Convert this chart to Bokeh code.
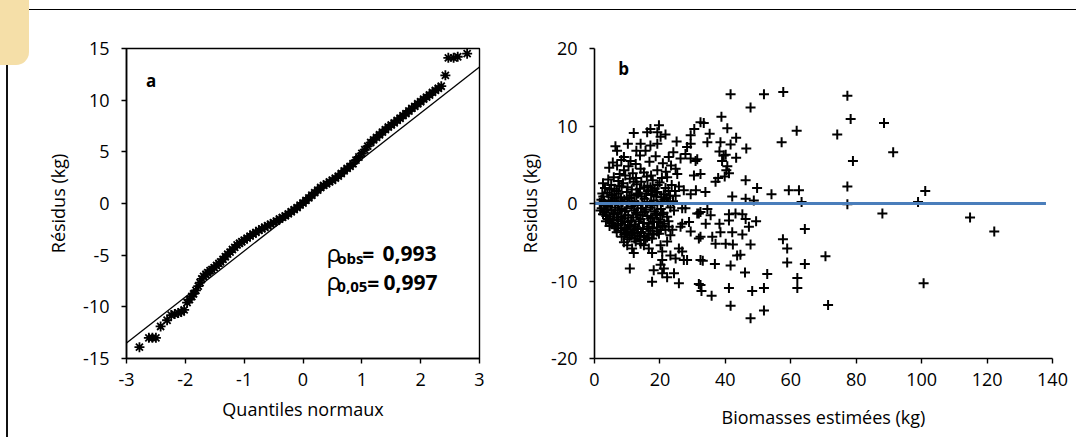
from bokeh.plotting import figure
from bokeh.models import Range1d, FixedTicker, Label, Div
from bokeh.layouts import row, column
from bokeh.embed import file_html
from bokeh.resources import INLINE

FONT = "Open Sans"

# ---------------- Panel a : normal QQ plot of residuals ----------------
qq_quantiles = [-2.78, -2.62, -2.56, -2.50, -2.42, -2.31, -2.24, -2.18, -2.12, -2.07,
                -2.02, -1.97, -1.93, -1.89, -1.86, -1.82, -1.78, -1.75, -1.72, -1.69,
                -1.65, -1.62, -1.58, -1.55, -1.51, -1.47, -1.43, -1.40, -1.36, -1.32,
                -1.28, -1.24, -1.20, -1.16, -1.12, -1.08, -1.04, -1.00, -0.95, -0.90,
                -0.85, -0.80, -0.75, -0.70, -0.65, -0.60, -0.55, -0.50, -0.45, -0.40,
                -0.35, -0.30, -0.25, -0.20, -0.15, -0.10, -0.05, 0.00, 0.05, 0.10,
                0.15, 0.20, 0.25, 0.30, 0.35, 0.40, 0.45, 0.50, 0.55, 0.60,
                0.65, 0.70, 0.75, 0.80, 0.85, 0.90, 0.95, 1.00, 1.05, 1.10,
                1.15, 1.20, 1.25, 1.30, 1.35, 1.40, 1.45, 1.50, 1.55, 1.60,
                1.65, 1.70, 1.75, 1.80, 1.85, 1.90, 1.95, 2.00, 2.05, 2.10,
                2.15, 2.20, 2.25, 2.30, 2.35, 2.42, 2.47, 2.56, 2.63, 2.79]
qq_residuals = [-13.9, -13.0, -13.0, -13.0, -11.9, -11.3, -10.8, -10.7, -10.6, -10.5,
                -10.3, -9.6, -9.3, -9.0, -8.75, -8.4, -8.0, -7.65, -7.3, -7.05,
                -6.85, -6.7, -6.5, -6.4, -6.2, -6.0, -5.8, -5.65, -5.4, -5.15,
                -4.9, -4.7, -4.45, -4.25, -4.0, -3.85, -3.7, -3.55, -3.35, -3.15,
                -2.95, -2.8, -2.6, -2.45, -2.3, -2.15, -2.0, -1.85, -1.7, -1.5,
                -1.35, -1.2, -1.0, -0.8, -0.6, -0.4, -0.15, 0.05, 0.3, 0.55,
                0.8, 1.05, 1.3, 1.55, 1.75, 1.9, 2.1, 2.25, 2.45, 2.65,
                2.9, 3.15, 3.4, 3.6, 3.85, 4.2, 4.5, 4.85, 5.2, 5.55,
                5.9, 6.15, 6.4, 6.65, 6.9, 7.15, 7.4, 7.6, 7.8, 8.05,
                8.25, 8.5, 8.7, 8.95, 9.2, 9.4, 9.65, 9.85, 10.1, 10.3,
                10.5, 10.75, 10.95, 11.15, 11.35, 12.4, 14.1, 14.1, 14.2, 14.5]
qq_line_x = [-3, 3]
qq_line_y = [-13.5, 13.2]
a_x_ticks = [-3, -2, -1, 0, 1, 2, 3]
a_y_ticks = [-15, -10, -5, 0, 5, 10, 15]

# ---------------- Panel b : residuals vs estimated biomass ----------------
b_points_sparse = [
    (41.6, 14.1), (51.8, 14.1), (57.7, 14.4), (77.3, 13.9), (47.7, 12.4), (78.3, 10.9),
    (88.5, 10.4), (38.8, 11.2), (33.4, 10.4), (40.6, 9.7), (61.8, 9.4), (74.2, 8.9),
    (35.2, 9.0), (43.3, 8.5), (34.5, 7.9), (38.5, 7.9), (41.6, 7.6), (57.2, 7.9),
    (46.4, 7.1), (38.2, 6.7), (40.1, 6.3), (43.3, 5.9), (31.4, 5.7), (39.0, 5.5),
    (79.0, 5.5), (40.6, 4.8), (32.4, 3.8), (41.1, 3.9), (37.8, 3.3), (37.0, 2.8),
    (46.2, 3.0), (49.7, 2.0), (54.1, 1.2), (59.4, 1.7), (62.5, 1.7), (77.3, 2.2),
    (33.9, 1.5), (42.1, 0.9), (46.2, 0.6), (48.7, 0.4), (63.3, 0.2), (77.3, -0.1),
    (88.0, -1.3), (34.5, -0.7), (31.9, -1.3), (35.5, -1.5), (41.1, -1.4), (43.1, -1.3),
    (45.2, -1.4), (46.2, -2.0), (34.0, -2.6), (38.2, -2.6), (41.1, -2.2), (49.4, -2.3),
    (64.3, -3.3), (47.2, -3.0), (42.1, -3.7), (38.5, -3.7), (45.2, -4.0), (32.4, -4.3),
    (36.0, -4.3), (37.0, -5.2), (40.1, -5.2), (42.3, -5.3), (47.7, -5.3), (57.6, -4.6),
    (58.9, -5.8), (43.6, -6.7), (44.6, -6.6), (70.6, -6.8), (33.1, -7.4), (36.8, -7.8),
    (41.6, -8.0), (58.9, -7.6), (64.3, -7.8), (46.0, -8.9), (52.8, -9.1), (62.0, -9.6),
    (62.0, -10.9), (31.9, -10.4), (32.7, -11.3), (35.8, -11.9), (41.1, -10.9), (48.2, -11.3),
    (51.8, -10.9), (41.6, -13.2), (71.4, -13.1), (51.8, -13.8), (47.7, -14.8), (30.5, 9.6),
    (31.0, 1.7), (114.8, -1.8), (122.2, -3.6), (100.6, -10.3), (98.9, 0.2), (101.1, 1.6),
    (91.3, 6.6), (39.5, 6.2), (40.3, 4.3), (39.8, 3.5),
]
b_points_upper = [
    (19.7, 10.1), (12.0, 9.1), (16.1, 9.2), (17.1, 9.6), (19.2, 9.2), (21.7, 8.9),
    (20.2, 8.6), (32.4, 10.5), (29.4, 8.8), (25.1, 8.0), (10.2, 7.7), (6.4, 7.4),
    (6.9, 6.8), (14.1, 7.7), (17.1, 7.5), (19.2, 7.7), (12.8, 6.8), (28.3, 7.3),
    (29.4, 7.7), (27.8, 6.4), (26.3, 5.8), (29.4, 5.8), (30.9, 5.5), (9.0, 6.0),
    (11.0, 5.5), (22.7, 6.0), (24.8, 4.5), (25.3, 3.8), (30.4, 3.6), (9.0, 4.3),
    (6.9, 4.9), (14.1, 4.5), (15.1, 4.0), (19.2, 4.3), (22.2, 3.4), (12.0, 2.8),
    (27.3, 1.7), (29.4, 1.2), (17.1, 2.1), (19.2, 1.5), (24.8, 1.0),
    (5.6, 5.3), (8.2, 5.6), (10.4, 4.8), (12.6, 5.1), (16.8, 5.4), (18.7, 6.1),
    (20.9, 5.2), (23.4, 4.9), (7.7, 3.8), (11.7, 3.9), (17.3, 3.6), (21.8, 4.1),
    (13.9, 6.2), (15.6, 6.8), (24.1, 6.6), (4.5, 4.6),
]
b_points_lower = [
    (5.4, -2.6), (6.4, -3.2), (9.0, -5.0), (10.0, -5.4), (11.5, -5.8), (12.0, -6.4),
    (10.8, -8.4), (14.1, -5.2), (15.1, -5.4), (16.6, -5.8), (17.6, -6.4), (20.2, -5.4),
    (20.7, -6.2), (22.2, -4.9), (23.2, -4.1), (19.7, -3.9), (18.1, -8.6), (17.6, -10.1),
    (20.7, -7.3), (20.2, -7.9), (21.2, -8.4), (20.7, -9.0), (22.2, -9.5), (24.3, -9.0),
    (23.2, -6.7), (24.8, -7.1), (25.8, -5.8), (26.8, -6.2), (27.3, -7.3), (28.3, -7.3),
    (25.8, -10.3), (26.8, -2.6), (26.3, -3.0), (28.9, -2.4), (29.4, -3.6), (24.3, -0.9),
    (26.8, -0.6), (27.8, -0.6), (31.4, -1.3), (32.4, -1.1), (31.9, -4.5), (32.4, -7.3),
    (32.4, -10.5), (22.7, -3.0), (21.7, -3.4), (15.1, -4.3), (23.8, -3.4),
]
b_points_core = [
    (4.2, 3.1), (7.3, 2.9), (10.8, 3.2), (14.3, 2.8), (17.8, 3.0), (20.6, 3.3),
    (5.1, 2.4), (8.7, 2.6), (12.9, 2.5), (16.2, 2.3), (19.9, 2.7), (23.6, 2.4),
    (3.2, 2.0), (6.1, 1.9), (8.3, 2.2), (11.4, 1.8), (15.2, 2.1), (18.4, 1.9), (21.7, 2.0), (25.8, 2.2),
    (3.9, 1.4), (6.8, 1.6), (9.9, 1.5), (13.3, 1.3), (16.4, 1.6), (19.1, 1.4), (21.2, 1.2), (24.6, 1.6),
    (2.7, 0.9), (5.2, 1.1), (8.1, 0.8), (11.2, 1.0), (14.4, 0.9), (17.3, 1.1), (20.4, 0.8), (23.1, 1.0),
    (2.1, 0.5), (4.3, 0.4), (6.2, 0.6), (9.1, 0.5), (12.2, 0.3), (15.3, 0.6), (18.1, 0.4), (21.3, 0.5), (24.0, 0.3),
    (1.6, 0.1), (3.1, -0.2), (5.3, 0.2), (7.2, -0.1), (10.1, 0.1), (13.2, -0.2), (16.1, 0.2), (19.2, -0.1), (22.4, 0.1),
    (2.2, -0.6), (4.1, -0.4), (6.3, -0.5), (8.2, -0.7), (11.3, -0.4), (14.2, -0.6), (17.1, -0.5), (20.3, -0.7), (23.2, -0.5),
    (3.0, -1.1), (5.2, -0.9), (7.1, -1.2), (9.3, -1.0), (12.1, -0.9), (15.2, -1.1), (18.3, -1.0), (21.1, -1.2),
    (3.6, -1.6), (6.1, -1.4), (8.2, -1.7), (10.3, -1.5), (13.1, -1.4), (16.2, -1.6), (19.1, -1.5), (22.2, -1.7),
    (4.1, -2.0), (7.2, -2.1), (9.1, -1.9), (11.2, -2.2), (14.1, -2.0), (17.2, -1.9), (20.1, -2.1),
    (5.2, -2.5), (8.1, -2.6), (10.2, -2.4), (12.3, -2.7), (15.1, -2.5), (18.2, -2.4), (21.3, -2.6),
    (6.1, -3.0), (9.2, -3.1), (11.1, -2.9), (13.2, -3.2), (16.1, -3.0), (19.1, -3.1),
    (8.1, -3.5), (10.2, -3.6), (12.1, -3.4), (14.2, -3.7), (17.1, -3.5), (20.2, -3.4),
    (9.1, -4.0), (11.2, -4.1), (13.1, -3.9), (15.2, -4.2), (18.1, -4.0),
    (10.1, -4.6), (12.2, -4.5), (14.1, -4.7), (16.1, -4.4),
]
b_points_core_extra = [
    (2.6, 2.6), (5.9, 3.4), (9.4, 3.6), (12.7, 3.3), (16.0, 3.5), (19.3, 2.4),
    (4.6, 1.8), (7.6, 2.3), (10.1, 2.1), (13.9, 1.9), (17.6, 1.7), (22.6, 1.6),
    (2.4, 1.3), (5.6, 0.8), (7.4, 1.3), (10.6, 0.7), (12.8, 1.1), (15.8, 1.3), (18.9, 0.9), (22.0, 0.7),
    (2.9, 0.3), (4.8, -0.1), (6.7, 0.3), (8.6, 0.2), (11.6, -0.1), (14.7, 0.1), (17.6, -0.2), (20.8, 0.2),
    (1.8, -0.9), (3.6, -0.8), (5.7, -1.3), (7.7, -0.9), (9.8, -0.6), (12.7, -1.2), (15.7, -0.8), (18.7, -1.3),
    (2.6, -1.4), (4.7, -1.7), (6.8, -1.8), (9.4, -1.5), (11.8, -1.8), (14.7, -1.5), (17.7, -1.8), (20.7, -1.4),
    (3.5, -2.3), (5.8, -2.2), (8.6, -2.3), (10.7, -2.8), (13.6, -2.3), (16.6, -2.6), (19.6, -2.4), (22.6, -2.3),
    (4.6, -2.9), (7.2, -2.8), (9.7, -3.3), (12.6, -3.0), (14.8, -3.3), (17.7, -3.2), (20.8, -2.9),
    (6.8, -3.7), (9.6, -3.8), (11.6, -3.7), (13.7, -4.2), (16.6, -3.9), (19.1, -3.6),
    (8.3, -4.3), (10.7, -4.4), (12.6, -4.9), (15.6, -4.7), (17.6, -4.5),
]
zero_line_x = [0, 138]
zero_line_y = [0, 0]
b_x_ticks = [0, 20, 40, 60, 80, 100, 120, 140]
b_y_ticks = [-20, -10, 0, 10, 20]

TICK_SIZE = "18px"
LABEL_SIZE = "18px"


def style_axes(p):
    for ax in (p.xaxis[0], p.yaxis[0]):
        ax.major_label_text_font = FONT
        ax.major_label_text_font_size = TICK_SIZE
        ax.major_label_text_color = "black"
        ax.axis_label_text_font = FONT
        ax.axis_label_text_font_size = LABEL_SIZE
        ax.axis_label_text_font_style = "normal"
        ax.axis_label_text_color = "black"
        ax.axis_line_color = "black"
        ax.axis_line_width = 1.6
        ax.major_tick_line_color = "black"
        ax.major_tick_line_width = 1.4
        ax.major_tick_out = 5
        ax.major_tick_in = 0
        ax.minor_tick_line_color = None
    p.xgrid.visible = False
    p.ygrid.visible = False


def plain_labels(ticks):
    return {t: str(t) for t in ticks}


# ----- page decorations (header rule, tab and left margin rule) -----
header = Div(text=('<div style="display:flex;width:1076px;height:12px;overflow:hidden">'
                   '<div style="width:29px;height:12px;background:#f5dfa8"></div>'
                   '<div style="width:1047px;height:10px;border-bottom:1.5px solid #000"></div>'
                   '</div>'),
             width=1076, height=12, margin=0)
left_rule = Div(text=('<div style="width:29px;height:53px;background:#f5dfa8;'
                      'border-bottom-right-radius:13px"></div>'
                      '<div style="margin-left:6px;width:2px;height:372px;background:#111"></div>'),
                width=30, height=425, margin=0)

# ----- figure a -----
pa = figure(width=480, height=425, x_range=Range1d(-3, 3), y_range=Range1d(-15, 15),
            output_backend="svg", toolbar_location=None,
            min_border_left=96, min_border_right=31, min_border_top=19, min_border_bottom=74)
pa.outline_line_color = "black"
pa.outline_line_width = 1.4
pa.background_fill_color = "white"
pa.border_fill_color = "white"
style_axes(pa)
pa.xaxis.ticker = FixedTicker(ticks=a_x_ticks)
pa.yaxis.ticker = FixedTicker(ticks=a_y_ticks)
pa.xaxis.major_label_overrides = plain_labels(a_x_ticks)
pa.yaxis.major_label_overrides = plain_labels(a_y_ticks)
pa.xaxis.axis_label = "Quantiles normaux"
pa.yaxis.axis_label = "Résidus (kg)"
pa.yaxis.major_label_standoff = 12
pa.yaxis.axis_label_standoff = 10
pa.xaxis.major_label_standoff = 9
pa.xaxis.axis_label_standoff = 8

pa.line(qq_line_x, qq_line_y, line_color="black", line_width=1.3)
pa.scatter(qq_quantiles, qq_residuals, marker="asterisk", size=10,
           line_color="black", line_width=1.8)

pa.add_layout(Label(x=-2.58, y=11.9, text="a", text_font=FONT, text_font_size="17px",
                    text_font_style="bold", text_align="center", text_baseline="middle",
                    text_color="black"))
# rho annotations: (baseline, subscript, x of "=", x of value, value)
for (yb, sub, xeq, xval, val) in [(-4.88, "obs", 1.008, 1.35, "0,993"),
                                  (-7.65, "0,05", 1.094, 1.37, "0,997")]:
    pa.add_layout(Label(x=0.40, y=yb + 0.18, text="ρ", text_font=FONT, text_font_size="24px",
                        text_baseline="alphabetic", text_color="black"))
    pa.add_layout(Label(x=0.583, y=yb - 0.42, text=sub, text_font=FONT, text_font_size="15px",
                        text_font_style="bold", text_baseline="alphabetic", text_color="black"))
    pa.add_layout(Label(x=xeq, y=yb, text="=", text_font=FONT, text_font_size="21px",
                        text_font_style="bold", text_baseline="alphabetic", text_color="black"))
    pa.add_layout(Label(x=xval, y=yb, text=val, text_font=FONT, text_font_size="21px",
                        text_font_style="bold", text_baseline="alphabetic", text_color="black"))

# ----- figure b -----
pb = figure(width=566, height=425, x_range=Range1d(0, 140), y_range=Range1d(-20, 20),
            output_backend="svg", toolbar_location=None,
            min_border_left=84, min_border_right=24, min_border_top=36, min_border_bottom=79)
pb.outline_line_color = None
pb.background_fill_color = "white"
pb.border_fill_color = "white"
style_axes(pb)
pb.xaxis.ticker = FixedTicker(ticks=b_x_ticks)
pb.yaxis.ticker = FixedTicker(ticks=b_y_ticks)
pb.xaxis.major_label_overrides = plain_labels(b_x_ticks)
pb.yaxis.major_label_overrides = plain_labels(b_y_ticks)
pb.xaxis.axis_label = "Biomasses estimées (kg)"
pb.yaxis.axis_label = "Residus (kg)"
pb.yaxis.major_label_standoff = 12
pb.yaxis.axis_label_standoff = 6
pb.xaxis.major_label_standoff = 9
pb.xaxis.axis_label_standoff = 16

all_b = b_points_sparse + b_points_upper + b_points_lower + b_points_core + b_points_core_extra
bx = [pt[0] for pt in all_b]
by = [pt[1] for pt in all_b]
pb.scatter(bx, by, marker="cross", size=10, line_color="black", line_width=2)
pb.line(zero_line_x, zero_line_y, line_color="#4a7ebb", line_width=3.2)
pb.add_layout(Label(x=8.9, y=17.4, text="b", text_font=FONT, text_font_size="17px",
                    text_font_style="bold", text_align="center", text_baseline="middle",
                    text_color="black"))

layout = column(header, row(left_rule, pa, pb, spacing=0), spacing=0)
open("out.html", "w").write(file_html(layout, INLINE))
